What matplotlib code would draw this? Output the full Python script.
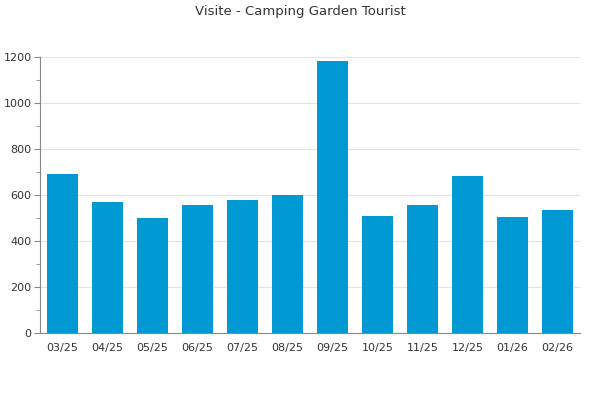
import matplotlib
matplotlib.use("Agg")
import matplotlib.pyplot as plt
from matplotlib.ticker import MultipleLocator

months = ["03/25", "04/25", "05/25", "06/25", "07/25", "08/25",
          "09/25", "10/25", "11/25", "12/25", "01/26", "02/26"]
visits = [691, 570, 500, 557, 578, 600, 1183, 509, 557, 683, 504, 535]

fig = plt.figure(figsize=(6, 4), dpi=100)
ax = fig.add_axes([40/600, 67/400, 540/600, 276/400])

x = range(len(months))
ax.bar(x, visits, width=0.69, color="#0099d4", zorder=3)

ax.set_xlim(-0.5, len(months) - 0.5)
ax.set_ylim(0, 1200)
ax.yaxis.set_major_locator(MultipleLocator(200))
ax.yaxis.set_minor_locator(MultipleLocator(100))
ax.set_xticks(list(x))
ax.set_xticklabels(months)

ax.grid(axis="y", which="major", color="#e3e3e3", linewidth=0.8, zorder=0)
for s in ["top", "right"]:
    ax.spines[s].set_visible(False)
for s in ["left", "bottom"]:
    ax.spines[s].set_color("#888888")
    ax.spines[s].set_linewidth(0.8)

ax.tick_params(axis="x", length=0, pad=7, labelsize=8, labelcolor="#333333")
ax.tick_params(axis="y", which="major", length=4, color="#888888", labelsize=8, labelcolor="#333333", pad=2)
ax.tick_params(axis="y", which="minor", length=3, color="#888888")

fig.text(0.5, 1 - 12/400, "Visite - Camping Garden Tourist", ha="center", va="center",
         fontsize=9.5, color="#333333")

fig.savefig("out.png", dpi=100)
